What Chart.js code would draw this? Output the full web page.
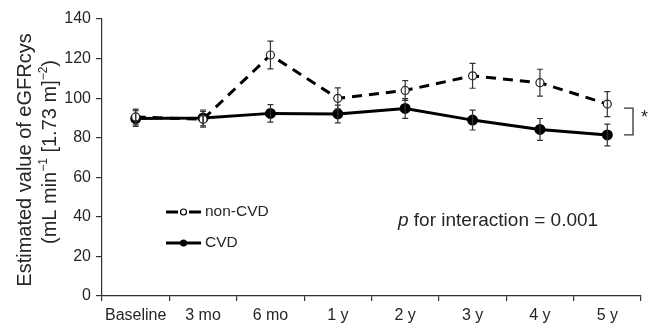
<!DOCTYPE html>
<html><head><meta charset="utf-8">
<script src="https://cdn.jsdelivr.net/npm/chart.js@4/dist/chart.umd.min.js"></script>
<style>html,body{margin:0;padding:0;background:#fff}#wrap{width:648px;height:324px}</style>
</head><body><div id="wrap"><canvas id="c" width="648" height="324"></canvas></div>
<script>
const categories = ['Baseline','3 mo','6 mo','1 y','2 y','3 y','4 y','5 y'];
const nonCvd = [90.5, 89.3, 121.8, 99.9, 103.9, 111.3, 107.8, 97.0];
const nonCvdErr = [4, 4, 7, 5.3, 5, 6.3, 6.8, 6.3];
const cvd = [89.7, 90.0, 92.3, 92.0, 94.8, 88.9, 84.2, 81.4];
const cvdErr = [4, 4, 4.4, 4.5, 5, 5, 5.5, 5.5];
const yTicks = [0, 20, 40, 60, 80, 100, 120, 140];
const yTitleLine1 = 'Estimated value of eGFRcys';
// second title line as [text, isSuperscript] pieces
const yTitleLine2 = [['(mL min', false], ['\u22121', true], [' [1.73 m]', false], ['\u22122', true], [')', false]];
const legendLabels = ['non-CVD', 'CVD'];
const annotationText = 'for interaction = 0.001';

const TXT = '#262626';
const FONT = "'Liberation Sans', Arial, sans-serif";

const extras = {
  id: 'extras',
  afterDatasetsDraw(chart) {
    const ctx = chart.ctx, x = chart.scales.x, y = chart.scales.y;
    ctx.save();
    const drawErr = (vals, errs) => {
      ctx.strokeStyle = '#333'; ctx.lineWidth = 1.2;
      vals.forEach((v, i) => {
        const px = x.getPixelForValue(i);
        const t = y.getPixelForValue(v + errs[i]), b = y.getPixelForValue(v - errs[i]);
        ctx.beginPath();
        ctx.moveTo(px, t); ctx.lineTo(px, b);
        ctx.moveTo(px - 3, t); ctx.lineTo(px + 3, t);
        ctx.moveTo(px - 3, b); ctx.lineTo(px + 3, b);
        ctx.stroke();
      });
    };
    drawErr(nonCvd, nonCvdErr);
    drawErr(cvd, cvdErr);
    // bracket
    const bx = 633, bt = y.getPixelForValue(95), bb = y.getPixelForValue(81.4);
    ctx.strokeStyle = '#333'; ctx.lineWidth = 1.3;
    ctx.beginPath();
    ctx.moveTo(624, bt); ctx.lineTo(bx, bt); ctx.lineTo(bx, bb); ctx.lineTo(624, bb);
    ctx.stroke();
    ctx.fillStyle = TXT; ctx.font = '18px ' + FONT; ctx.textBaseline = 'middle'; ctx.textAlign = 'left';
    ctx.fillText('*', 641, 118);
    // legend
    ctx.lineWidth = 3; ctx.strokeStyle = '#000';
    ctx.beginPath(); ctx.moveTo(166, 212); ctx.lineTo(178, 212); ctx.moveTo(189, 212); ctx.lineTo(201, 212); ctx.stroke();
    ctx.lineWidth = 1.2; ctx.fillStyle = '#fff';
    ctx.beginPath(); ctx.arc(183.5, 212, 3, 0, Math.PI * 2); ctx.fill(); ctx.stroke();
    ctx.lineWidth = 3;
    ctx.beginPath(); ctx.moveTo(166, 243); ctx.lineTo(201, 243); ctx.stroke();
    ctx.fillStyle = '#000';
    ctx.beginPath(); ctx.arc(183.5, 243, 3.5, 0, Math.PI * 2); ctx.fill();
    ctx.fillStyle = TXT; ctx.font = '15.5px ' + FONT; ctx.textBaseline = 'middle';
    ctx.fillText(legendLabels[0], 205, 212);
    ctx.fillText(legendLabels[1], 205, 243);
    // annotation
    ctx.font = 'italic 19px ' + FONT;
    ctx.fillText('p', 398, 221);
    const pw = ctx.measureText('p ').width;
    ctx.font = '19px ' + FONT;
    ctx.fillText(annotationText, 398 + pw, 221);
    // y title line 1
    ctx.font = '20px ' + FONT; ctx.textAlign = 'center';
    ctx.save(); ctx.translate(25, 160); ctx.rotate(-Math.PI / 2); ctx.fillText(yTitleLine1, 0, 0); ctx.restore();
    // y title line 2 with superscripts
    ctx.save(); ctx.translate(50, 152); ctx.rotate(-Math.PI / 2);
    ctx.textAlign = 'left';
    const big = '20px ' + FONT, small = '12px ' + FONT;
    let total = 0;
    yTitleLine2.forEach(([t, sup]) => { ctx.font = sup ? small : big; total += ctx.measureText(t).width; });
    let cx = -total / 2;
    yTitleLine2.forEach(([t, sup]) => {
      ctx.font = sup ? small : big;
      ctx.fillText(t, cx, sup ? -6 : 0);
      cx += ctx.measureText(t).width;
    });
    ctx.restore();
    ctx.restore();
  }
};

new Chart(document.getElementById('c'), {
  type: 'line',
  data: {
    labels: categories,
    datasets: [
      { label: legendLabels[0], data: nonCvd, borderColor: '#000', borderWidth: 3, borderDash: [10, 7],
        pointRadius: 4, pointBackgroundColor: '#fff', pointBorderColor: '#222', pointBorderWidth: 1.2, tension: 0 },
      { label: legendLabels[1], data: cvd, borderColor: '#000', borderWidth: 3,
        pointRadius: 4, pointBackgroundColor: '#000', pointBorderColor: '#000', tension: 0 }
    ]
  },
  options: {
    responsive: false, animation: false, devicePixelRatio: 1,
    layout: { padding: { top: 19, right: 3, left: 0, bottom: 0 } },
    plugins: { legend: { display: false }, tooltip: { enabled: false } },
    elements: { line: { borderCapStyle: 'butt' } },
    scales: {
      x: {
        offset: true,
        grid: { display: true, offset: true, drawOnChartArea: false, tickLength: 5, color: '#333', lineWidth: 1.2 },
        border: { display: true, color: '#333', width: 1.2 },
        ticks: { color: TXT, font: { family: FONT, size: 16 }, padding: 5, maxRotation: 0, autoSkip: false },
        afterFit(s) { s.height = 28; }
      },
      y: {
        min: 0, max: 140,
        afterBuildTicks(s) { s.ticks = yTicks.map(v => ({ value: v })); },
        grid: { display: true, drawOnChartArea: false, tickLength: 6, color: '#333', lineWidth: 1.2 },
        border: { display: true, color: '#333', width: 1.2 },
        ticks: { color: TXT, font: { family: FONT, size: 16 }, padding: 5 },
        afterFit(s) { s.width = 102; }
      }
    }
  },
  plugins: [extras]
});
</script>
</body></html>
